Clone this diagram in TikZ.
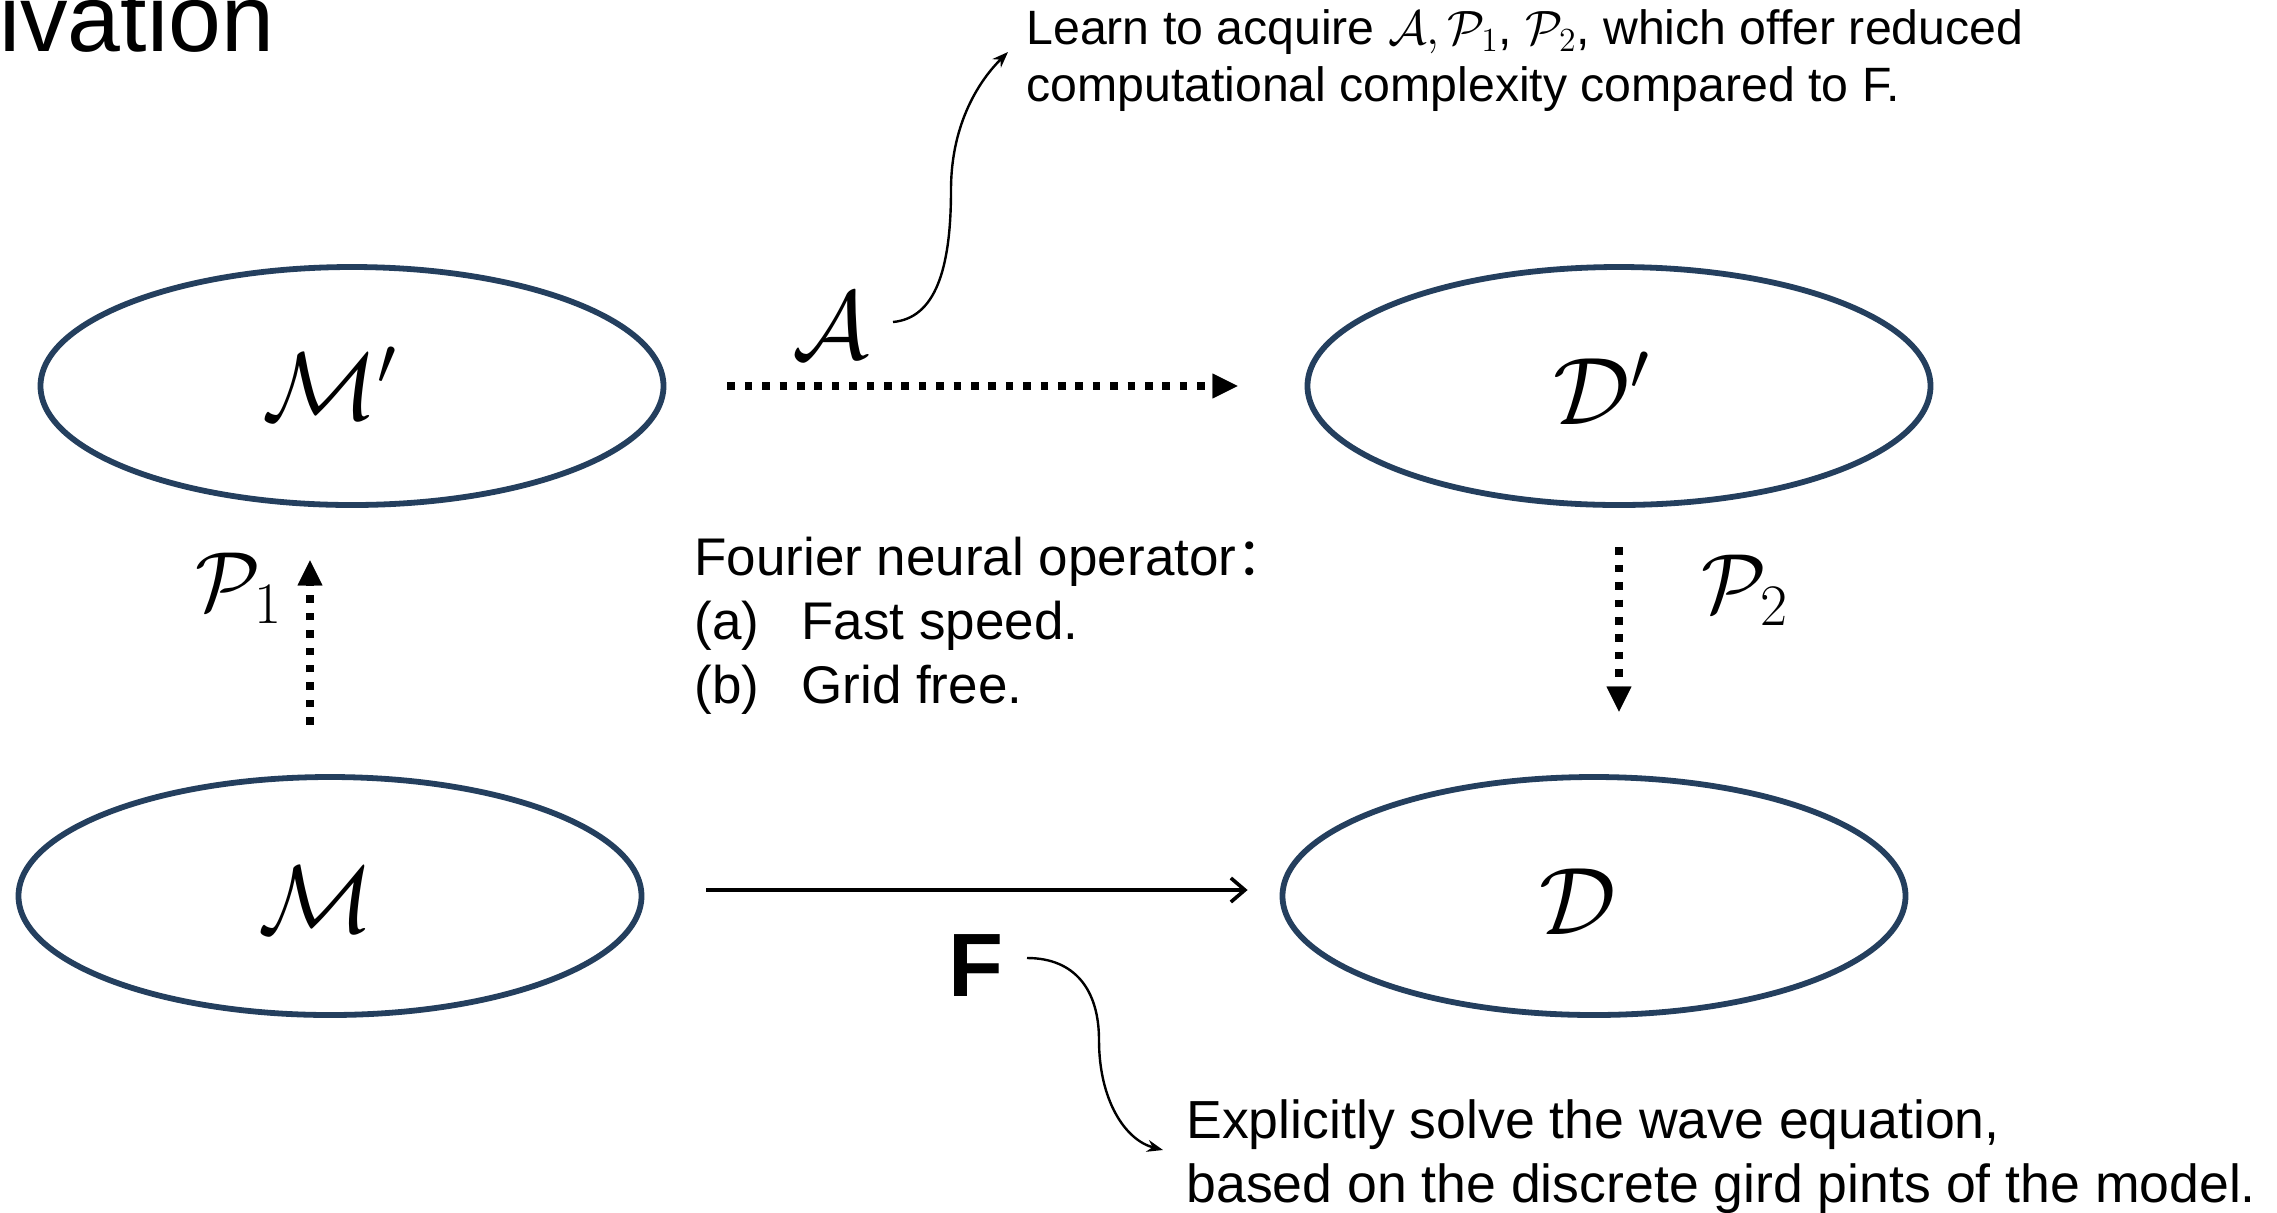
\RequirePackage{fix-cm}
\documentclass[tikz,border=0pt]{standalone}
\usepackage[no-math]{fontspec}
\setmainfont{Liberation Sans}
\newfontfamily\cjk{Noto Sans CJK SC}
\usetikzlibrary{shapes.geometric,arrows.meta}
\definecolor{ellblue}{RGB}{36,63,94}
\tikzset{
  setnode/.style={draw=ellblue, line width=2.9pt, ellipse, minimum width=311.5pt, minimum height=119pt, inner sep=0pt},
  mlabel/.style={inner sep=0pt, font=\fontsize{48}{58}\selectfont},
  plabel/.style={inner sep=0pt, font=\fontsize{42}{50}\selectfont},
  txt/.style={inner sep=0pt, anchor=base west},
  dotarr/.style={line width=3.75pt, dash pattern=on 3.75pt off 4.95pt, -{Triangle[length=12.5pt,width=12.5pt,line width=0.1pt]}},
  solidarr/.style={line width=1.8pt, -{Straight Barb[length=7pt,width=12pt]}},
  notearr/.style={line width=1.2pt, -{Stealth[length=8pt,width=6pt]}},
}
\begin{document}
\begin{tikzpicture}[x=0.5pt,y=-0.5pt]
\useasboundingbox (0,0) rectangle (2277,1212);
\clip (0,0) rectangle (2277,1212);
\fill[white] (0,0) rectangle (2277,1212);

% title fragment
\node[txt, font=\fontsize{47.5}{57}\selectfont] (title) at (-1,51) {ivation};

% sets
\node[setnode] (Mp) at (352,386) {};
\node[setnode] (Dp) at (1619,386) {};
\node[setnode] (M) at (330,896) {};
\node[setnode] (D) at (1594,896) {};

\node[mlabel] (Mplab) at (330,383) {$\mathcal{M}'$};
\node[mlabel] (Dplab) at (1602,388) {$\mathcal{D}'$};
\node[mlabel] (Mlab) at (316,900) {$\mathcal{M}$};
\node[mlabel] (Dlab) at (1578,902) {$\mathcal{D}$};

% operator labels
\node[mlabel] (Alab) at (831,326) {$\mathcal{A}$};
\node[plabel] (P1lab) at (239,588) {$\mathcal{P}_1$};
\node[plabel] (P2lab) at (1745,590) {$\mathcal{P}_2$};
\node[inner sep=0pt, font=\fontsize{45}{54}\selectfont\bfseries] (Flab) at (976,966) {F};

% arrows
\draw[dotarr, shorten <=30.5pt, shorten >=33.5pt] (Mp) -- (Dp);
\draw[dotarr, shorten <=24.75pt, shorten >=26.25pt] ([xshift=-10pt]M.north) -- ([xshift=-10pt]M.north |- Mp.south);
\draw[dotarr, shorten <=19.75pt, shorten >=31.25pt] (Dp.south) -- (Dp.south |- D.north);
\draw[solidarr, shorten <=31pt, shorten >=16pt] ([yshift=3pt]M.east) -- ([yshift=3pt]D.west);

% texts
\node[txt, font=\fontsize{24.1}{29}\selectfont] (learnA) at (1026,44) {Learn to acquire $\mathcal{A},\mathcal{P}_1$, $\mathcal{P}_2$, which offer reduced};
\node[txt, font=\fontsize{24.1}{29}\selectfont] (learnB) at (1026,101) {computational complexity compared to F.};

\node[txt, font=\fontsize{26.5}{32}\selectfont] (fnoA) at (694,575) {Fourier neural operator{\cjk ：}};
\node[txt, font=\fontsize{26.5}{32}\selectfont] (fnoB) at (694,639) {\makebox[53.5pt][l]{(a)}Fast speed.};
\node[txt, font=\fontsize{26.5}{32}\selectfont] (fnoC) at (694,703) {\makebox[53.5pt][l]{(b)}Grid free.};

\node[txt, font=\fontsize{26.8}{32}\selectfont] (explA) at (1186,1138) {Explicitly solve the wave equation,};
\node[txt, font=\fontsize{26.8}{32}\selectfont] (explB) at (1186,1202) {based on the discrete gird pints of the model.};

% annotation curves
\coordinate (ns) at (893,322);
\coordinate (ne) at (1008,52);
\draw[notearr] (ns) .. controls (935,318) and (951,270) .. (951,190) .. controls (951,110) and (992,68) .. (ne);
\coordinate (fs) at (1027,958);
\coordinate (fe) at (1163,1150);
\draw[notearr] (fs) .. controls (1075,958) and (1099,990) .. (1099,1040) .. controls (1099,1100) and (1125,1140) .. (fe);
\end{tikzpicture}
\end{document}
